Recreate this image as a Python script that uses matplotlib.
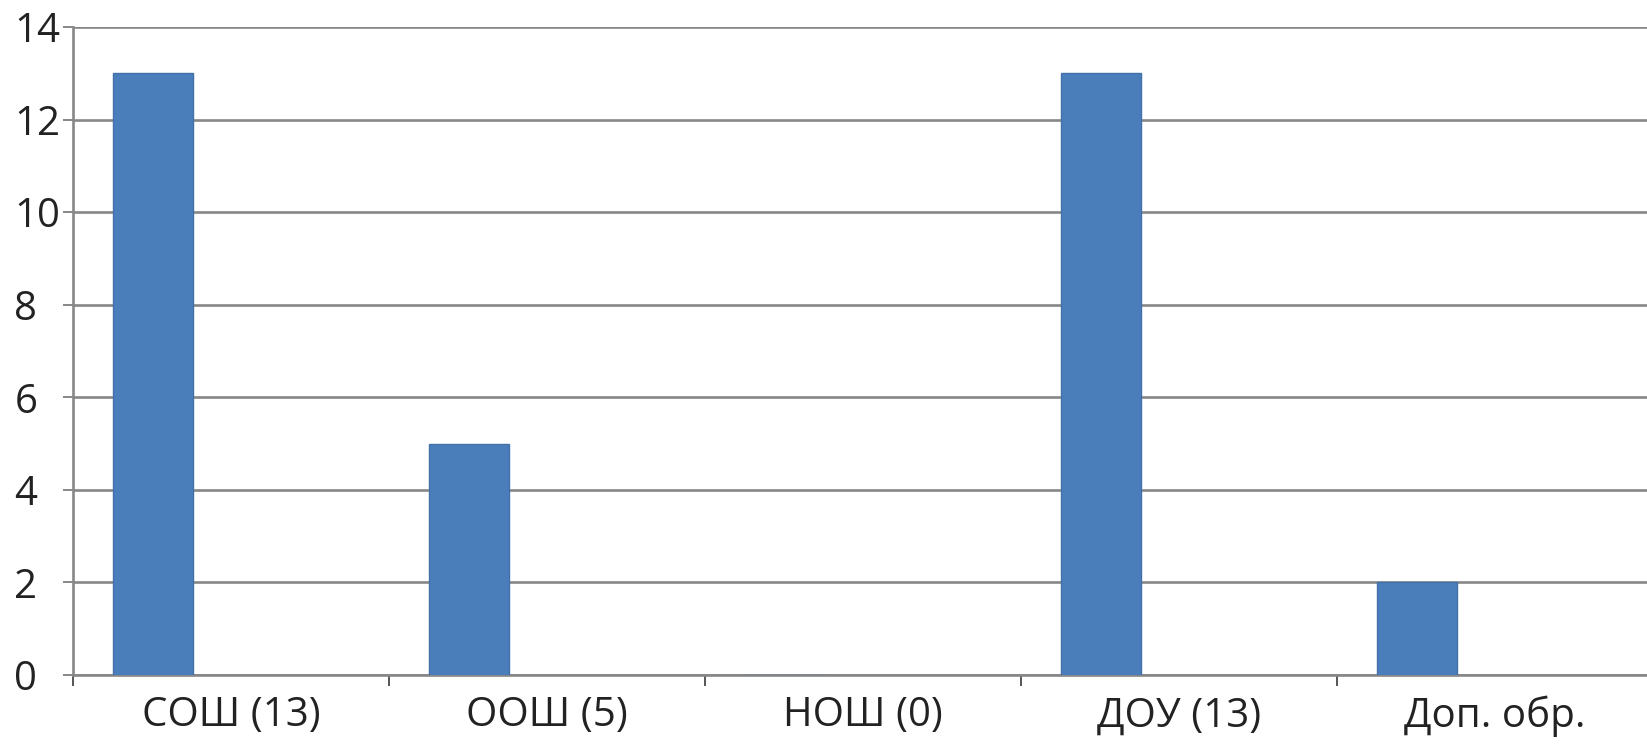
import numpy as np
import matplotlib.pyplot as plt

categories = ['СОШ (13)', 'ООШ (5)', 'НОШ (0)', 'ДОУ (13)', 'Доп. обр.']
values = [13, 5, 0, 13, 2]
y_ticks = [0, 2, 4, 6, 8, 10, 12, 14]

plt.rcParams['font.family'] = ['Open Sans', 'DejaVu Sans']

fig = plt.figure(figsize=(16.47, 7.44), dpi=100)
ax = fig.add_axes([73/1647, 69/744, 1580/1647, 648/744])

x = np.arange(len(categories))
ax.bar(x - 0.247, values, width=0.253, color='#4a7ebb', edgecolor='#4270a8', linewidth=1, zorder=3)

ax.set_xlim(-0.5, len(categories) - 0.5)
ax.set_ylim(0, 14)

grid_color = '#878787'
ax.set_yticks(y_ticks)
ax.yaxis.grid(True, color=grid_color, linewidth=1.9, zorder=0)
ax.set_axisbelow(True)

for side in ['top', 'right']:
    ax.spines[side].set_visible(False)
for side in ['left', 'bottom']:
    ax.spines[side].set_color(grid_color)
    ax.spines[side].set_linewidth(1.9)

ax.tick_params(axis='y', length=7.2, width=1.4, color=grid_color, pad=35, labelsize=29, labelcolor='#222222')
for lbl in ax.get_yticklabels():
    lbl.set_horizontalalignment('left')

ax.set_xticks(x)
ax.set_xticklabels(categories)
ax.set_xticks(np.arange(len(categories) + 1) - 0.5, minor=True)
ax.tick_params(axis='x', which='major', length=0, pad=15, labelsize=29, labelcolor='#222222')
ax.tick_params(axis='x', which='minor', length=8, width=1.4, color='#555555')

fig.savefig('out.png', dpi=100)
